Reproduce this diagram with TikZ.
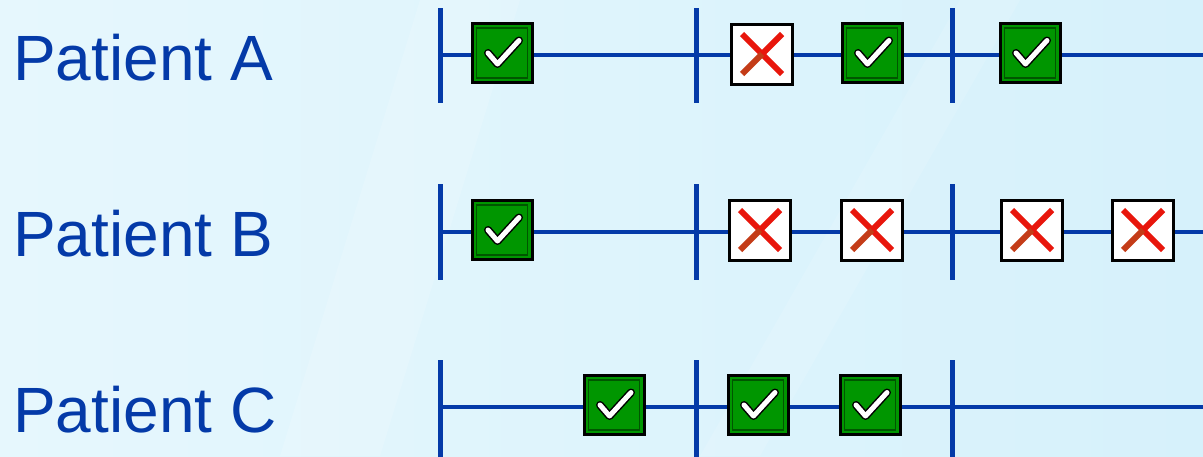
\documentclass[tikz,border=0pt]{standalone}
\usepackage{fontspec}
\setmainfont{Liberation Sans}
\definecolor{navy}{RGB}{4,58,168}
\definecolor{okgreen}{RGB}{0,150,0}
\definecolor{okdark}{RGB}{0,85,0}
\definecolor{xred}{RGB}{232,22,12}
\definecolor{xrust}{RGB}{196,60,24}
\definecolor{bgleft}{RGB}{230,247,253}
\definecolor{bgright}{RGB}{214,241,251}
\tikzset{
  axis/.style={navy, line width=4.5},
  tick/.style={navy, line width=5},
  label/.style={anchor=base west, inner sep=0pt, text=navy,
    font=\fontsize{64}{70}\selectfont},
  okbox/.style={draw=black, line width=3, fill=okgreen, minimum width=60pt,
    minimum height=59pt, inner sep=0pt,
    path picture={
      \draw[okdark, line width=1.6]
        ([shift={(4.5pt,-4.5pt)}]path picture bounding box.north west) rectangle
        ([shift={(-4.5pt,4.5pt)}]path picture bounding box.south east);
      \draw[black, line width=8, line cap=round, line join=round]
        ([shift={(-14pt,0pt)}]path picture bounding box.center) --
        ([shift={(-4.5pt,-11pt)}]path picture bounding box.center) --
        ([shift={(17pt,12.5pt)}]path picture bounding box.center);
      \draw[white, line width=5, line cap=round, line join=round]
        ([shift={(-14pt,0pt)}]path picture bounding box.center) --
        ([shift={(-4.5pt,-11pt)}]path picture bounding box.center) --
        ([shift={(17pt,12.5pt)}]path picture bounding box.center);
    }},
  nobox/.style={draw=black, line width=3, fill=white, minimum width=61pt,
    minimum height=60pt, inner sep=0pt,
    path picture={
      \draw[xred, line width=6]
        ([shift={(-20pt,20pt)}]path picture bounding box.center) --
        ([shift={(20pt,-20pt)}]path picture bounding box.center);
      \draw[xred, line width=6]
        ([shift={(20pt,20pt)}]path picture bounding box.center) --
        (path picture bounding box.center);
      \draw[xrust, line width=6]
        (path picture bounding box.center) --
        ([shift={(-20pt,-20pt)}]path picture bounding box.center);
    }},
}
\begin{document}
\begin{tikzpicture}[x=1pt, y=-1pt]
  % background
  \useasboundingbox (0,0) rectangle (1203,456);
  \shade[left color=bgleft, right color=bgright] (0,0) rectangle (1203,456);
  \fill[white, opacity=0.14] (280,456) -- (420,0) -- (520,0) -- (380,456) -- cycle;
  \fill[white, opacity=0.12] (700,456) -- (960,0) -- (1020,0) -- (760,456) -- cycle;

  % row labels
  \node[label] (labA) at (13,80) {Patient A};
  \node[label] (labB) at (13,256) {Patient B};
  \node[label] (labC) at (13,432) {Patient C};

  % timeline anchors
  \foreach \r/\y in {A/55, B/232, C/407} {
    \coordinate (\r0) at (440,\y);
    \coordinate (\r1) at (696,\y);
    \coordinate (\r2) at (952,\y);
    \coordinate (\r3) at (1203,\y);
  }

  % horizontal timelines
  \draw[axis] (A0) -- (A3);
  \draw[axis] (B0) -- (B3);
  \draw[axis] (C0) -- (C3);

  % period ticks
  \foreach \t in {0,1,2} {
    \draw[tick] ([yshift=47pt]A\t) -- ([yshift=-48pt]A\t);
    \draw[tick] ([yshift=48pt]B\t) -- ([yshift=-48pt]B\t);
    \draw[tick] ([yshift=47pt]C\t) -- ([yshift=-52pt]C\t);
  }

  % Patient A results
  \node[okbox] (a1) at (502,53) {};
  \node[nobox] (a2) at (762,54) {};
  \node[okbox] (a3) at (872,53) {};
  \node[okbox] (a4) at (1030,53) {};

  % Patient B results
  \node[okbox] (b1) at (502,230) {};
  \node[nobox] (b2) at (760,230) {};
  \node[nobox] (b3) at (872,230) {};
  \node[nobox] (b4) at (1032,230) {};
  \node[nobox] (b5) at (1143,230) {};

  % Patient C results
  \node[okbox] (c1) at (614,405) {};
  \node[okbox] (c2) at (758,405) {};
  \node[okbox] (c3) at (870,405) {};
\end{tikzpicture}
\end{document}
